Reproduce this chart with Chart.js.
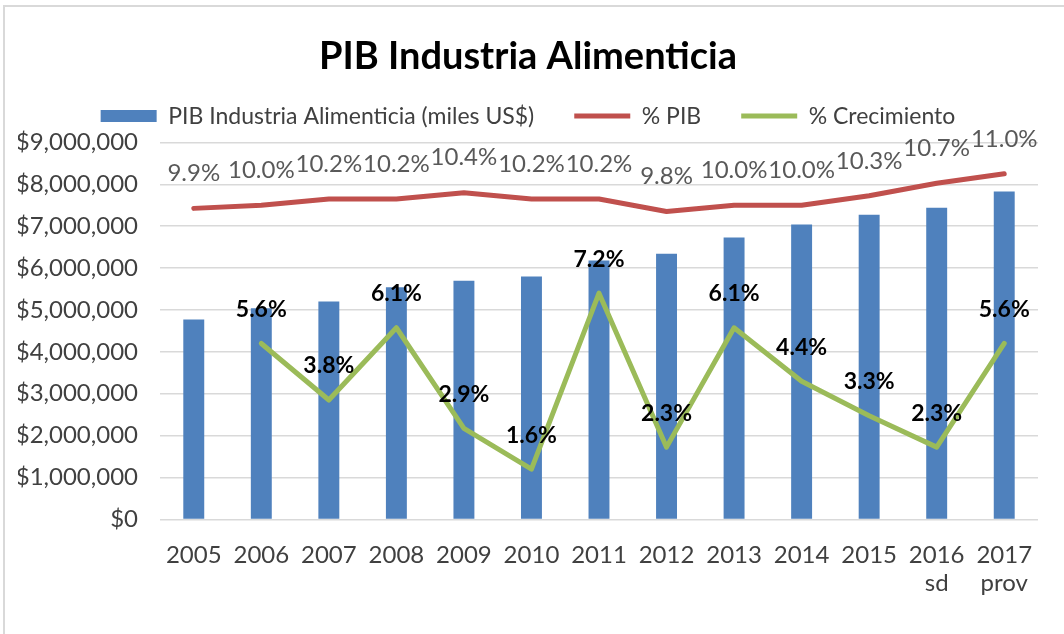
<!DOCTYPE html>
<html lang="es">
<head>
<meta charset="UTF-8">
<title>PIB Industria Alimenticia</title>
<script src="https://cdn.jsdelivr.net/npm/chart.js"></script>
<style>
  html, body { margin: 0; padding: 0; background: #fff; }
  #wrap { position: relative; width: 1064px; height: 634px; }
  #frame { position: absolute; left: 3px; top: 5px; right: 0; bottom: 0;
           border-left: 2px solid #d9d9d9; border-top: 2px solid #d9d9d9; pointer-events: none; }
</style>
</head>
<body>
<div id="wrap">
  <canvas id="chart" width="1064" height="634"></canvas>
  <div id="frame"></div>
</div>
<script>
const years = ['2005', '2006', '2007', '2008', '2009', '2010', '2011', '2012', '2013', '2014', '2015', ['2016', 'sd'], ['2017', 'prov']];
const pibIndustria = [4770000, 5040000, 5200000, 5540000, 5700000, 5800000, 6180000, 6340000, 6730000, 7040000, 7270000, 7440000, 7830000];
const pctPib = [9.9, 10.0, 10.2, 10.2, 10.4, 10.2, 10.2, 9.8, 10.0, 10.0, 10.3, 10.7, 11.0];
const pctCrecimiento = [null, 5.6, 3.8, 6.1, 2.9, 1.6, 7.2, 2.3, 6.1, 4.4, 3.3, 2.3, 5.6];

const FONT = 'Lato, "Open Sans", sans-serif';

// draws the value labels above the points of the line series
const pointLabels = {
  id: 'pointLabels',
  afterDatasetsDraw(chart) {
    const ctx = chart.ctx;
    chart.data.datasets.forEach((ds, i) => {
      if (!ds.valueLabel) return;
      const meta = chart.getDatasetMeta(i);
      ctx.save();
      ctx.font = ds.valueLabel.font;
      ctx.fillStyle = ds.valueLabel.color;
      ctx.textAlign = 'center';
      ctx.textBaseline = 'middle';
      meta.data.forEach((pt, j) => {
        const v = ds.data[j];
        if (v === null) return;
        ctx.fillText(v.toFixed(1) + '%', pt.x, pt.y - ds.valueLabel.offset);
      });
      ctx.restore();
    });
  }
};

new Chart(document.getElementById('chart'), {
  type: 'bar',
  data: {
    labels: years,
    datasets: [
      {
        label: 'PIB Industria Alimenticia (miles US$)',
        data: pibIndustria,
        backgroundColor: '#4f81bd',
        borderWidth: 0,
        categoryPercentage: 1,
        barPercentage: 0.31,
        yAxisID: 'y',
        order: 2,
        pointStyle: 'rect'
      },
      {
        type: 'line',
        label: '% PIB',
        data: pctPib,
        borderColor: '#c0504d',
        backgroundColor: '#c0504d',
        borderWidth: 5,
        borderCapStyle: 'round',
        borderJoinStyle: 'round',
        pointRadius: 0,
        pointStyle: 'line',
        yAxisID: 'y1',
        order: 1,
        valueLabel: { font: '24px ' + FONT, color: '#595959', offset: 35 }
      },
      {
        type: 'line',
        label: '% Crecimiento',
        data: pctCrecimiento,
        borderColor: '#9bbb59',
        backgroundColor: '#9bbb59',
        borderWidth: 5,
        borderCapStyle: 'round',
        borderJoinStyle: 'round',
        pointRadius: 0,
        pointStyle: 'line',
        yAxisID: 'y1',
        order: 0,
        valueLabel: { font: 'bold 23px ' + FONT, color: '#000000', offset: 34 }
      }
    ]
  },
  options: {
    responsive: false,
    animation: false,
    layout: { padding: { left: 18, right: 26, top: 0, bottom: 23 } },
    plugins: {
      title: {
        display: true,
        text: 'PIB Industria Alimenticia',
        color: '#000000',
        font: { family: FONT, size: 38, weight: 'bold' },
        padding: { top: 34, bottom: -15 }
      },
      // empty spacer between legend and plot area
      subtitle: {
        display: true,
        text: '',
        weight: 500,
        font: { size: 4 },
        padding: 0
      },
      legend: {
        display: true,
        labels: {
          usePointStyle: true,
          pointStyleWidth: 56,
          boxHeight: 12,
          padding: 40,
          color: '#404040',
          font: { family: FONT, size: 23 },
          sort: (a, b) => a.datasetIndex - b.datasetIndex
        }
      },
      tooltip: { enabled: false }
    },
    scales: {
      x: {
        grid: { display: false },
        border: { display: false },
        ticks: { color: '#404040', font: { family: FONT, size: 24 }, padding: 13, maxRotation: 0 }
      },
      y: {
        min: 0,
        max: 9000000,
        ticks: {
          stepSize: 1000000,
          color: '#404040',
          font: { family: FONT, size: 24 },
          padding: 22,
          callback: v => '$' + v.toLocaleString('en-US')
        },
        grid: { color: '#d9d9d9', lineWidth: 1.5, drawTicks: false },
        border: { display: false },
        afterFit: axis => { axis.width = 142; }
      },
      y1: {
        min: 0,
        max: 12,
        display: false
      }
    }
  },
  plugins: [pointLabels]
});
</script>
</body>
</html>
